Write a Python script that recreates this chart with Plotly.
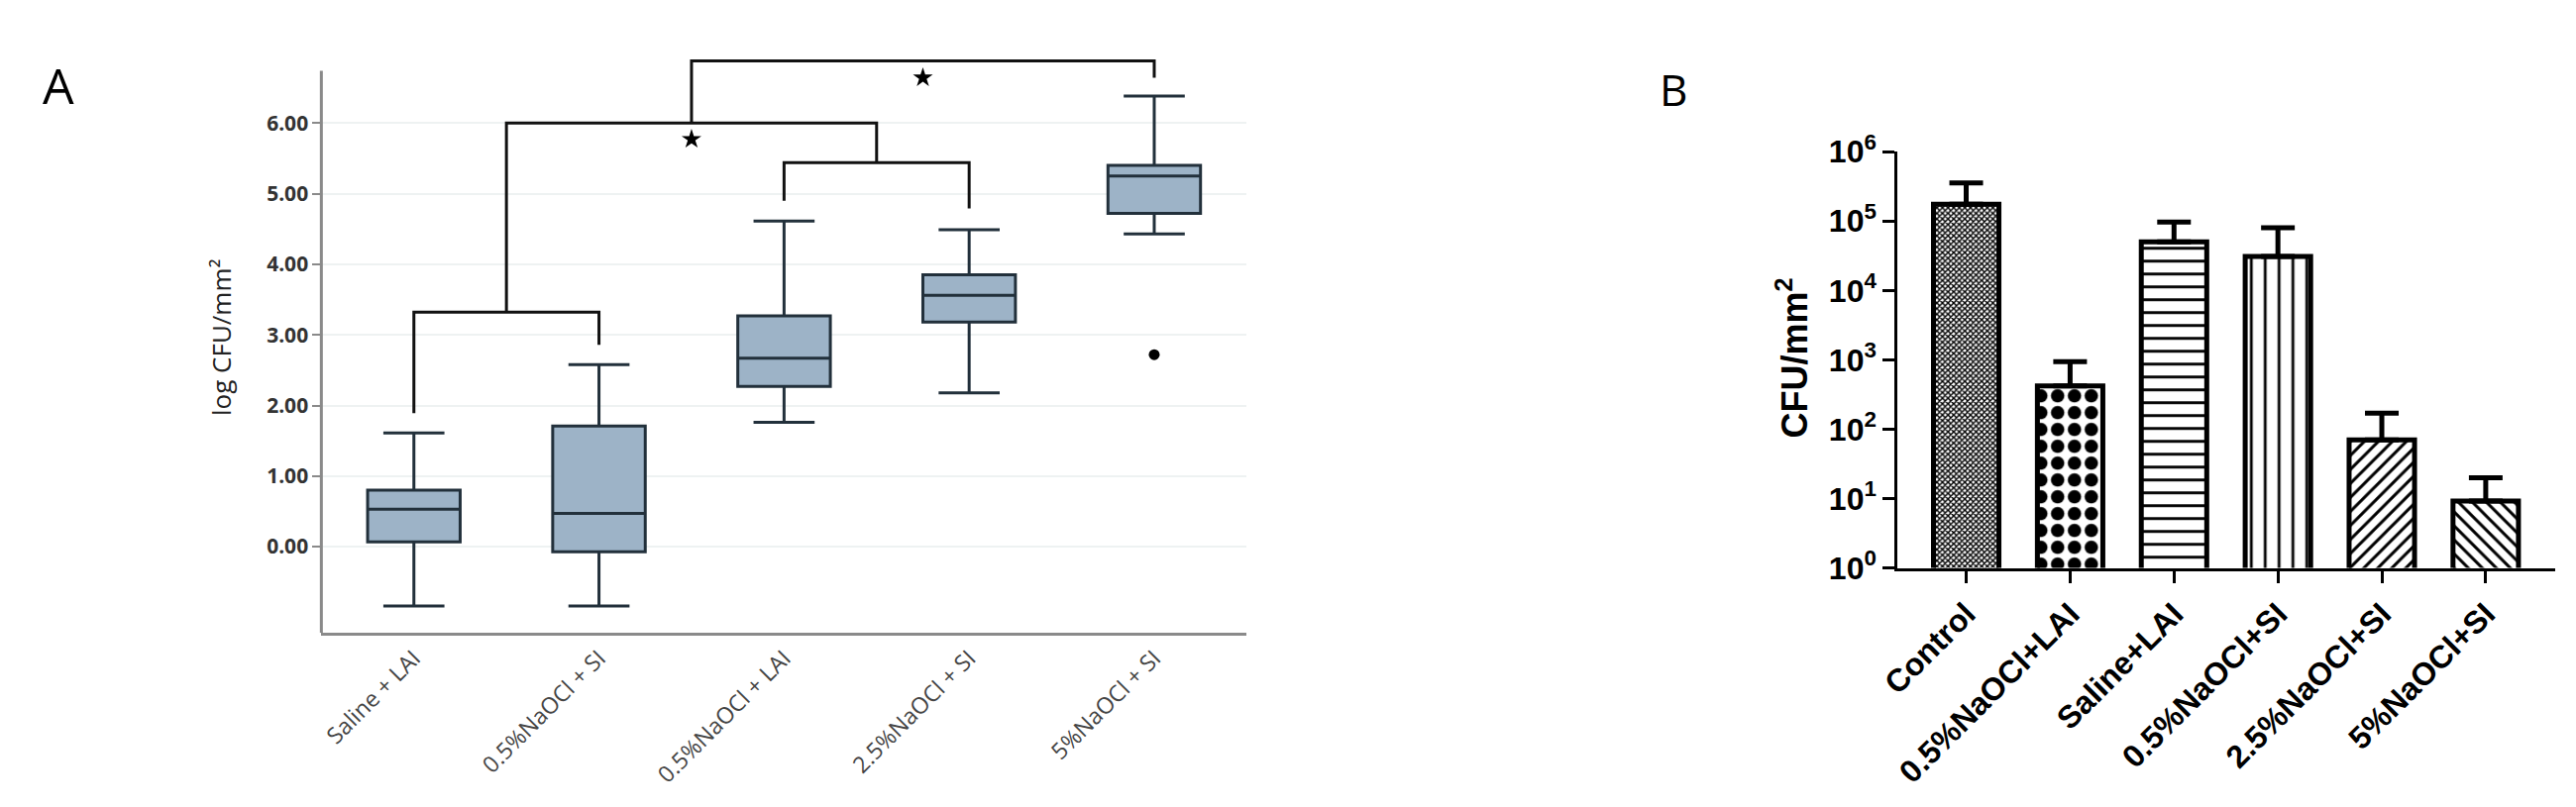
import plotly.graph_objects as go

W, H = 2600, 815

# ---------------- Panel A data (log CFU/mm2 box plot) ----------------
a_cats = ["Saline + LAI", "0.5%NaOCl + SI", "0.5%NaOCl + LAI", "2.5%NaOCl + SI", "5%NaOCl + SI"]
a_lower = [-0.84, -0.84, 1.76, 2.18, 4.43]
a_q1 = [0.07, -0.07, 2.27, 3.18, 4.72]
a_median = [0.53, 0.47, 2.67, 3.56, 5.25]
a_q3 = [0.80, 1.71, 3.27, 3.85, 5.40]
a_upper = [1.61, 2.58, 4.61, 4.49, 6.38]
a_outlier_group = [4]
a_outlier_value = [2.72]
a_yticks = [0, 1, 2, 3, 4, 5, 6]
a_axis_top = 6.74          # where the drawn y-axis line ends
a_range = [-1.22, 7.0]

# significance brackets (category-index units / log CFU units)
bracket_left = [0, 2, 0.5, 1.5]
bracket_right = [1, 3, 2.5, 4]
bracket_top = [3.32, 5.44, 6.00, 6.88]
bracket_left_foot = [1.89, 4.90, 3.32, 6.00]
bracket_right_foot = [2.86, 4.79, 5.44, 6.64]
star_x = [1.5, 2.75]
star_y = [5.77, 6.64]

# ---------------- Panel B data (CFU/mm2 bars, log scale) ----------------
b_cats = ["Control", "0.5%NaOCl+LAI", "Saline+LAI", "0.5%NaOCl+SI", "2.5%NaOCl+SI", "5%NaOCl+SI"]
b_values = [1.75e5, 4.2e2, 5.0e4, 3.1e4, 70, 9.2]
b_err_top = [3.55e5, 9.4e2, 9.7e4, 8.0e4, 1.7e2, 20]
b_patterns = ["x", ".", "-", "|", "/", "\\"]
b_pattern_sizes = [4, 17, 13, 14, 10, 10]
b_pattern_solidity = [0.6, 0.5, 0.22, 0.2, 0.3, 0.3]
b_yticks = [1, 10, 100, 1000, 1e4, 1e5, 1e6]
b_yticktext = ["10<sup>0</sup>", "10<sup>1</sup>", "10<sup>2</sup>", "10<sup>3</sup>",
               "10<sup>4</sup>", "10<sup>5</sup>", "10<sup>6</sup>"]

fig = go.Figure()

# ---- Panel A ----
a_pos = list(range(len(a_cats)))
fig.add_trace(go.Box(
    x=a_pos, q1=a_q1, median=a_median, q3=a_q3,
    lowerfence=a_lower, upperfence=a_upper,
    width=0.5, whiskerwidth=0.66,
    fillcolor="#9db3c7", line=dict(color="#22303b", width=3),
    boxpoints=False, showlegend=False, hoverinfo="skip",
    xaxis="x", yaxis="y",
))
fig.add_trace(go.Scatter(
    x=a_outlier_group, y=a_outlier_value, mode="markers",
    marker=dict(color="black", size=11), showlegend=False,
    xaxis="x", yaxis="y",
))
bx, by = [], []
for l, r, t, lf, rf in zip(bracket_left, bracket_right, bracket_top,
                           bracket_left_foot, bracket_right_foot):
    bx += [l, l, r, r, None]
    by += [lf, t, t, rf, None]
fig.add_trace(go.Scatter(
    x=bx, y=by, mode="lines", line=dict(color="#111111", width=3),
    showlegend=False, hoverinfo="skip", xaxis="x", yaxis="y",
))
fig.add_trace(go.Scatter(
    x=star_x, y=star_y, mode="markers",
    marker=dict(symbol="star", color="black", size=15, line=dict(width=0)),
    cliponaxis=False, showlegend=False, hoverinfo="skip", xaxis="x", yaxis="y",
))

# ---- Panel B ----
b_pos = list(range(len(b_cats)))
fig.add_trace(go.Bar(
    x=b_pos, y=b_values, width=0.63,
    marker=dict(
        color="white",
        line=dict(color="black", width=5),
        pattern=dict(shape=b_patterns, size=b_pattern_sizes,
                     solidity=b_pattern_solidity,
                     fgcolor="black", bgcolor="white", fgopacity=1),
    ),
    error_y=dict(type="data", symmetric=False,
                 array=[t - v for t, v in zip(b_err_top, b_values)],
                 arrayminus=[0] * len(b_values),
                 color="black", thickness=5, width=17),
    showlegend=False, xaxis="x2", yaxis="y2",
))

a_font = "Open Sans, Lato, sans-serif"
b_font = "Liberation Sans, Arial, sans-serif"

# pixel geometry of panel A: 75 px per log unit, x-axis line at y=649 px
a_px_per_unit = 75.0
a_bottom_px = 649
a_top_px = a_bottom_px - (a_range[1] - a_range[0]) * a_px_per_unit

fig.update_layout(
    width=W, height=H,
    margin=dict(l=0, r=0, t=0, b=0),
    paper_bgcolor="white", plot_bgcolor="white",
    xaxis=dict(
        domain=[306.7 / W, 1248 / W], range=[-0.5, 4.5],
        tickvals=a_pos, ticktext=a_cats, tickangle=-45,
        tickfont=dict(family=a_font, size=23, color="#444444"),
        showline=True, linecolor="#8a8a8a", linewidth=3,
        ticks="", showgrid=False, zeroline=False,
    ),
    yaxis=dict(
        domain=[1 - a_bottom_px / H, 1 - a_top_px / H], range=a_range,
        tickvals=a_yticks, tickformat=".2f",
        tickfont=dict(family=a_font, size=21, color="#333333", weight=700),
        showline=False,
        ticks="outside", ticklen=8, tickwidth=2, tickcolor="#8a8a8a",
        showgrid=True, gridcolor="#eef2f2", gridwidth=2, zeroline=False,
    ),
    xaxis2=dict(
        domain=[1910 / W, 2579 / W], range=[-0.66, 5.67],
        tickvals=b_pos, ticktext=b_cats, tickangle=-45,
        tickfont=dict(family=b_font, size=32, color="black", weight="bold"),
        showline=True, linecolor="black", linewidth=3,
        ticks="outside", ticklen=12, tickwidth=3, tickcolor="black",
        showgrid=False, zeroline=False, anchor="y2",
    ),
    yaxis2=dict(
        domain=[1 - 580 / H, 1 - 138 / H], type="log", range=[0, 6],
        tickvals=b_yticks, ticktext=b_yticktext,
        tickfont=dict(family=b_font, size=32, color="black", weight="bold"),
        showline=True, linecolor="black", linewidth=3,
        ticks="outside", ticklen=12, tickwidth=3, tickcolor="black",
        showgrid=False, zeroline=False, anchor="x2",
    ),
    shapes=[
        # panel A y-axis line (stops below the top bracket)
        dict(type="line", xref="x domain", yref="y", x0=0, x1=0,
             y0=a_range[0], y1=a_axis_top,
             line=dict(color="#8a8a8a", width=3), layer="above"),
    ],
    annotations=[
        dict(text="A", x=39 / W, y=1 - 67 / H, xref="paper", yref="paper",
             showarrow=False, xanchor="center", yanchor="middle",
             font=dict(family=a_font, size=50, color="black")),
        dict(text="B", x=1682 / W, y=1 - 72 / H, xref="paper", yref="paper",
             showarrow=False, xanchor="center", yanchor="middle",
             font=dict(family=a_font, size=44, color="black")),
        dict(text="log CFU/mm²", x=204 / W, y=1 - 335 / H, xref="paper", yref="paper",
             showarrow=False, xanchor="center", yanchor="middle", textangle=-90,
             font=dict(family=a_font, size=26, color="#222222")),
        dict(text="<b>CFU/mm<sup>2</sup></b>", x=1803 / W, y=1 - 357 / H,
             xref="paper", yref="paper",
             showarrow=False, xanchor="center", yanchor="middle", textangle=-90,
             font=dict(family=b_font, size=36, color="black")),
    ],
)

fig.write_html("out.html", config={"displayModeBar": False},
               post_script="document.body.style.margin='0';")
